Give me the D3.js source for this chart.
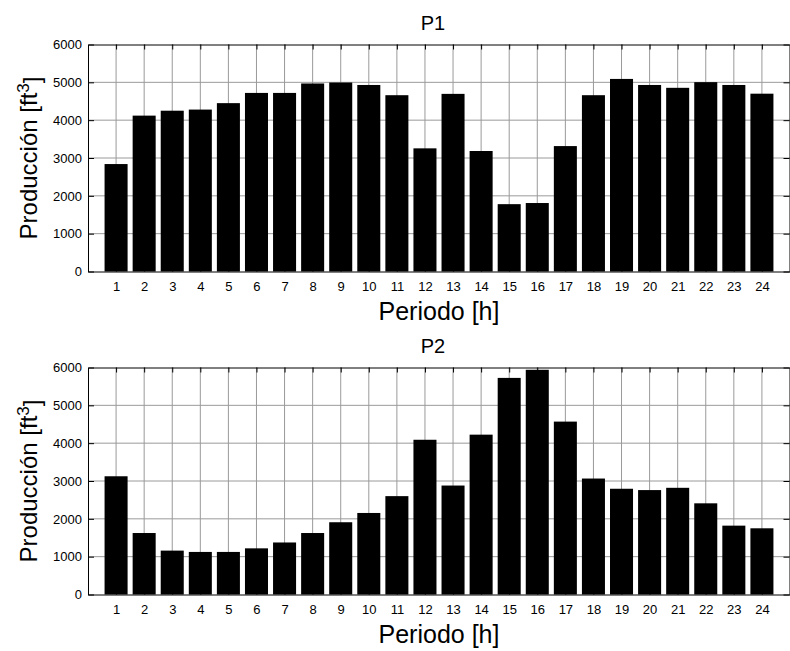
<!DOCTYPE html>
<html>
<head>
<meta charset="utf-8">
<script src="https://cdn.jsdelivr.net/npm/d3@7"></script>
<style>
  body { margin: 0; background: #fff; }
  svg { display: block; font-family: "Liberation Sans", Arial, sans-serif; }
  .grid line { stroke: #9a9a9a; stroke-width: 1; }
  .axis path, .axis line { stroke: #000; }
  .axis text { fill: #000; font-size: 13px; font-family: "Liberation Sans", Arial, sans-serif; }
</style>
</head>
<body>
<svg id="fig" width="790" height="651"></svg>
<script>
// periods (x categories)
const periods = [1, 2, 3, 4, 5, 6, 7, 8, 9, 10, 11, 12, 13, 14, 15, 16, 17, 18, 19, 20, 21, 22, 23, 24];

// production per period, ft^3
const p1 = [2840, 4120, 4250, 4280, 4450, 4720, 4720, 4970, 4995, 4930, 4660, 3255,
            4695, 3185, 1780, 1810, 3315, 4660, 5090, 4930, 4855, 5005, 4930, 4700];
const p2 = [3125, 1625, 1160, 1125, 1125, 1220, 1375, 1625, 1910, 2155, 2600, 4090,
            2880, 4225, 5725, 5940, 4570, 3065, 2795, 2760, 2820, 2410, 1820, 1750];

const yTicks = [0, 1000, 2000, 3000, 4000, 5000, 6000];
const titles = ['P1', 'P2'];
const xLabel = 'Periodo [h]';

const svg = d3.select('#fig');

let left = 88, right = 790, h = 227;
let tops = [44.5, 367.5];

function panel(g, values, title) {
  let w = right - left;
  let x = d3.scaleLinear().domain([0, 25]).range([0, w]);
  let y = d3.scaleLinear().domain([0, 6000]).range([h, 0]);
  let bw = x(0.82) - x(0);

  // grid
  let grid = g.append('g').attr('class', 'grid');
  grid.selectAll('.gx').data(periods).enter().append('line')
    .attr('x1', d => x(d)).attr('x2', d => x(d))
    .attr('y1', 0).attr('y2', h);
  grid.selectAll('.gy').data(yTicks.slice(1, -1)).enter().append('line')
    .attr('x1', 0).attr('x2', w)
    .attr('y1', d => y(d)).attr('y2', d => y(d));

  // bars
  g.append('g').attr('class', 'bars')
    .selectAll('rect').data(values).enter().append('rect')
    .attr('x', (d, i) => x(periods[i]) - bw / 2)
    .attr('y', d => y(d))
    .attr('width', bw)
    .attr('height', d => h - y(d))
    .attr('fill', '#000');

  // axes, ticks pointing inward like the matlab figure
  g.append('g').attr('class', 'axis axis--x')
    .attr('transform', `translate(0,${h})`)
    .call(d3.axisBottom(x).tickValues(periods).tickSizeInner(-6).tickSizeOuter(0).tickPadding(10.5));
  g.append('g').attr('class', 'axis axis--top')
    .call(d3.axisTop(x).tickValues(periods).tickFormat('').tickSizeInner(-5).tickSizeOuter(0));
  g.append('g').attr('class', 'axis axis--y')
    .call(d3.axisLeft(y).tickValues(yTicks).tickFormat(d3.format('d'))
      .tickSizeInner(-6).tickSizeOuter(0).tickPadding(6));
  g.append('g').attr('class', 'axis axis--right')
    .attr('transform', `translate(${w - 0.5},0)`)
    .call(d3.axisRight(y).tickValues(yTicks).tickFormat('').tickSizeInner(-6).tickSizeOuter(0));

  g.append('text')
    .attr('x', w / 2 - 6).attr('y', -15)
    .attr('text-anchor', 'middle')
    .attr('font-size', 20)
    .text(title);

  g.append('text')
    .attr('x', w / 2).attr('y', h + 48)
    .attr('text-anchor', 'middle')
    .attr('font-size', 25)
    .text(xLabel);

  let yl = g.append('text')
    .attr('transform', `translate(${37 - left},${h / 2}) rotate(-90)`)
    .attr('text-anchor', 'middle')
    .attr('font-size', 24);
  yl.append('tspan').text('Producción [ft');
  yl.append('tspan').attr('dy', '-0.45em').attr('font-size', 17).text('3');
  yl.append('tspan').attr('dy', '0.45em').text(']');
}

[p1, p2].forEach((vals, k) => {
  let g = svg.append('g').attr('transform', `translate(${left},${tops[k]})`);
  panel(g, vals, titles[k]);
});
</script>
</body>
</html>
